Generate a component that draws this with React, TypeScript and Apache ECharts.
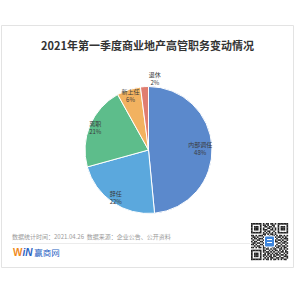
import React, { useEffect, useRef } from 'react';
import * as echarts from 'echarts';

const title = '2021年第一季度商业地产高管职务变动情况';
const categories = ['内部调任', '辞任', '离职', '新上任', '退休'];
const values = [48, 22, 21, 6, 2];
const colors = ['#5b89cc', '#5ba8dd', '#5dbd8b', '#f2b260', '#e07d70'];
const footerNote = '数据统计时间：2021.04.26  数据来源：企业公告、公开资料';

const qrRows = [
  '1111111010110110101111111',
  '1000001011010011001000001',
  '1011101001101101001011101',
  '1011101010011010101011101',
  '1011101011100110101011101',
  '1000001001011001001000001',
  '1111111010101010101111111',
  '0000000011010110100000000',
  '1101011101001011010110101',
  '0110100010111000101101010',
  '1011011101000111010010111',
  '0100110010110100101101001',
  '1011001101011010110010110',
  '0110110010100101001101101',
  '1101001101011011010010010',
  '0010110010101100101101101',
  '1101011011010011011010110',
  '0000000010110101100110101',
  '1111111011001010110101010',
  '1000001010110101001011011',
  '1011101001011010110100101',
  '1011101011010101011011010',
  '1011101010101101100100111',
  '1000001001010110011011001',
  '1111111010110101101010110',
];

function buildQr(x0: number, y0: number, size: number) {
  const n = qrRows.length;
  const m = size / n;
  const els: any[] = [];
  qrRows.forEach((row, r) => {
    for (let c = 0; c < row.length; c++) {
      if (row[c] === '1') {
        els.push({
          type: 'rect',
          shape: { x: x0 + c * m, y: y0 + r * m, width: m + 0.15, height: m + 0.15 },
          style: { fill: '#222' },
        });
      }
    }
  });
  const cx = x0 + size / 2;
  const cy = y0 + size / 2;
  els.push({ type: 'rect', shape: { x: cx - 5.5, y: cy - 6, width: 11, height: 12, r: 1.5 }, style: { fill: '#fff' } });
  els.push({ type: 'rect', shape: { x: cx - 4.5, y: cy - 5, width: 9, height: 10, r: 1 }, style: { fill: '#3f86dc' } });
  els.push({ type: 'rect', shape: { x: cx - 2.5, y: cy - 2.5, width: 5, height: 1 }, style: { fill: '#fff' } });
  els.push({ type: 'rect', shape: { x: cx - 2.5, y: cy + 0.5, width: 5, height: 1 }, style: { fill: '#fff' } });
  return els;
}

export default function App() {
  const ref = useRef<HTMLDivElement>(null);
  useEffect(() => {
    if (!ref.current) return;
    const chart = echarts.init(ref.current, null, { renderer: 'svg' });
    const center = [148.5, 150];
    const R = 63.5;
    const pieData = categories.map((name, i) => ({
      name,
      value: values[i],
      itemStyle: { color: colors[i] },
    }));
    const labelData = categories.map((name, i) => ({ name, value: values[i] }));
    chart.setOption({
      animation: false,
      backgroundColor: '#ffffff',
      title: {
        text: title,
        left: 'center',
        top: 34,
        textStyle: { fontSize: 11, fontWeight: 'bold', color: '#333', fontFamily: 'Noto Sans CJK SC' },
      },
      series: [
        {
          type: 'pie',
          center,
          radius: R,
          startAngle: 90,
          clockwise: true,
          silent: true,
          label: { show: false },
          labelLine: { show: false },
          itemStyle: { borderColor: '#ffffff', borderWidth: 1 },
          data: pieData,
        },
        {
          type: 'pie',
          center,
          radius: [46, R],
          startAngle: 90,
          clockwise: true,
          silent: true,
          itemStyle: { color: 'rgba(0,0,0,0)', borderWidth: 0 },
          labelLine: { show: false },
          label: {
            show: true,
            position: 'inside',
            color: '#3a3a3a',
            fontSize: 6,
            lineHeight: 8,
            fontFamily: 'Noto Sans CJK SC',
            formatter: (p: any) => `${p.name}\n${p.value}%`,
          },
          labelLayout: (p: any) => {
            if (p.dataIndex === 4) return { dx: 10, dy: -14 };
            if (p.dataIndex === 0) return { dx: -6, dy: 1 };
            return {};
          },
          data: labelData,
        },
      ],
      graphic: [
        {
          type: 'rect',
          shape: { x: 1.5, y: 25.5, width: 292, height: 242 },
          style: { fill: 'none', stroke: '#e3e3e3', lineWidth: 1 },
        },
        {
          type: 'line',
          shape: { x1: 12, y1: 243.5, x2: 250, y2: 243.5 },
          style: { stroke: '#ececec', lineWidth: 1 },
        },
        {
          type: 'text',
          x: 12,
          y: 236,
          style: {
            text: footerNote,
            fontSize: 6,
            fill: '#9a9a9a',
            verticalAlign: 'middle',
            fontFamily: 'Noto Sans CJK SC',
          },
        },
        {
          type: 'text',
          x: 13,
          y: 252,
          style: {
            text: '{w|W}{n|iN}{c| 赢商网}',
            verticalAlign: 'middle',
            rich: {
              w: { fontSize: 10, fontWeight: 'bold', fill: '#f08a1c', fontFamily: 'Arial, Liberation Sans' },
              n: { fontSize: 10, fontWeight: 'bold', fontStyle: 'italic', fill: '#2b63c3', fontFamily: 'Arial, Liberation Sans' },
              c: { fontSize: 8.5, fill: '#2b63c3', fontFamily: 'Noto Sans CJK SC' },
            },
          },
        },
        {
          type: 'group',
          children: buildQr(251, 223, 37),
        },
      ],
    });
    return () => chart.dispose();
  }, []);
  return (
    <div
      ref={ref}
      style={{ position: 'absolute', left: 0, top: 0, width: 295, height: 295, background: '#fff' }}
    />
  );
}
